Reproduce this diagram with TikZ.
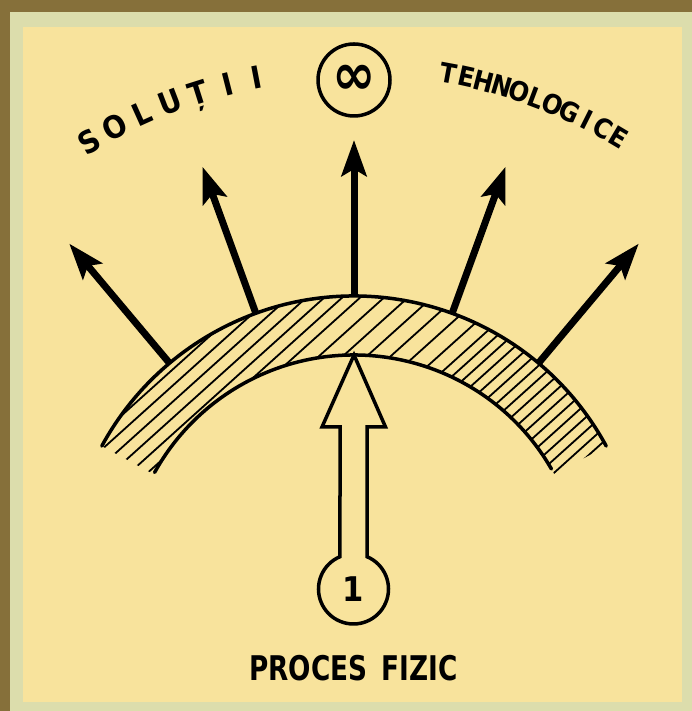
\documentclass[tikz,border=0pt]{standalone}
\usepackage{fontspec}
\newfontfamily\lettering{DejaVu Sans Condensed}[BoldFont={DejaVu Sans Condensed Bold}]
\usetikzlibrary{arrows.meta}
\definecolor{paper}{HTML}{F8E39C}
\definecolor{frame}{HTML}{86703A}
\definecolor{bevel}{HTML}{DCDDAC}

\begin{document}
\begin{tikzpicture}[x=1pt,y=1pt,
  ink/.style={draw=black,line width=3.5pt},
  ray/.style={line width=7pt,-{Stealth[length=36pt,width=25pt,inset=7pt]}},
  hatch/.style={line width=1.8pt},
  letter/.style={inner sep=0pt,text depth=0pt,text height=0.73em}]

  \useasboundingbox (0,0) rectangle (692,711);

  % frame
  \fill[frame] (0,0) rectangle (692,711);
  \fill[bevel] (10,0) rectangle (692,699);
  \fill[paper] (23,9) rectangle (682,684);

  \begin{scope}[shift={(354,128)}]
    % hatched band
    \begin{scope}
      \clip (28.5:287) arc[start angle=28.5,end angle=151.5,radius=287]
        -- (151.5:228) arc[start angle=151.5,end angle=28.5,radius=228] -- cycle;
      \foreach \u in {-62,-52,...,98}
        \draw[hatch] (132:\u) ++(42:-400) -- ++(42:800);
      \foreach \u in {112,128,...,208}
        \draw[hatch] (132:\u) ++(42:-400) -- ++(42:800);
      \foreach \u in {220,232,...,280}
        \draw[hatch] (132:\u) ++(42:-400) -- ++(42:800);
    \end{scope}
    \draw[ink,line cap=round] (28.5:287) arc[start angle=28.5,end angle=151.5,radius=287];
    \draw[ink,line cap=round] (30:228) arc[start angle=30,end angle=151,radius=228];

    % rays
    \foreach \a [count=\k] in {130,110,90,70,50} {
      \coordinate (foot\k) at (\a:287);
      \coordinate (tip\k) at (\a:443);
      \draw[ray] (foot\k) -- (tip\k);
    }

    % lettering along the arc
    \foreach \ch [count=\i] in {S,O,L,U,Ț,I,I} {
      \pgfmathsetmacro\ang{121-3.35*(\i-1)}
      \node[letter,font=\lettering\bfseries\fontsize{31}{31}\selectfont,rotate=\ang-90]
        (sol\i) at (\ang:507) {\ch};
    }
    \foreach \ch [count=\i] in {T,E,H,N,O,L,O,G,I,C,E} {
      \pgfmathsetmacro\ang{79.5-2.02*(\i-1)}
      \node[letter,font=\lettering\bfseries\fontsize{27}{27}\selectfont,rotate=\ang-90]
        (teh\i) at (\ang:512) {\ch};
    }

    % infinity mark
    \coordinate (lemc) at (90:503);
    \draw[ink] (lemc) circle[radius=36];
    \node[font=\lettering\bfseries\fontsize{58}{58}\selectfont,inner sep=0pt]
      (lemn) at (lemc) {∞};
  \end{scope}

  % hollow input arrow
  \draw[ink,line join=miter] (354,356) -- (385.5,284) -- (367,284) -- (367,154.3)
    arc[start angle=67.3,end angle=-247.3,radius=35]
    -- (340,284) -- (322,284) -- cycle;
  \node[font=\lettering\bfseries\fontsize{34}{34}\selectfont] (one) at (353.5,122) {1};

  \node[font=\lettering\bfseries\fontsize{34}{34}\selectfont,xscale=0.86] (proc) at (353.5,43)
    {PROCES\enspace FIZIC};

\end{tikzpicture}
\end{document}
